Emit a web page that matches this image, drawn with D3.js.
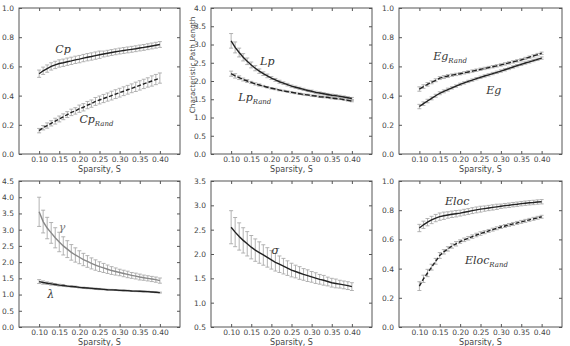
<!DOCTYPE html>
<html>
<head>
<meta charset="utf-8">
<script src="https://cdn.jsdelivr.net/npm/d3@7"></script>
<style>
  body { margin: 0; background: #fff; }
  svg { display: block; }
  .tick text { font-family: "DejaVu Sans", sans-serif; font-size: 7.5px; fill: #444; }
  .tick line { stroke: #555; }
  .lbl { font-family: "DejaVu Sans", sans-serif; font-size: 8px; fill: #444; }
  .ylbl { font-family: "DejaVu Sans", sans-serif; font-size: 7.3px; fill: #444; }
  .math { font-family: "DejaVu Serif", serif; font-style: italic; font-size: 11px; fill: #333; }
</style>
</head>
<body>
<svg id="chart" width="570" height="346"></svg>
<script>
var sparsity = [0.10,0.11,0.12,0.13,0.14,0.15,0.16,0.17,0.18,0.19,0.20,0.21,0.22,0.23,0.24,0.25,
                0.26,0.27,0.28,0.29,0.30,0.31,0.32,0.33,0.34,0.35,0.36,0.37,0.38,0.39,0.40];
var xTicks = [0.10,0.15,0.20,0.25,0.30,0.35,0.40];

var cp = [0.55,0.57,0.585,0.60,0.61,0.62,0.625,0.632,0.638,0.645,0.65,0.657,0.663,0.668,0.674,0.68,
          0.685,0.69,0.695,0.70,0.705,0.709,0.713,0.717,0.721,0.726,0.73,0.735,0.74,0.745,0.75];
var cpErr = [0.025,0.025,0.025,0.025,0.025,0.025,0.025,0.025,0.025,0.025,0.025,0.025,0.025,0.025,0.025,0.025,
             0.02,0.02,0.02,0.02,0.02,0.02,0.02,0.02,0.02,0.02,0.02,0.02,0.02,0.02,0.02];
var cpRand = [0.16,0.18,0.195,0.21,0.225,0.24,0.255,0.27,0.285,0.295,0.31,0.32,0.335,0.345,0.36,0.37,
              0.38,0.39,0.40,0.41,0.42,0.43,0.44,0.45,0.46,0.47,0.48,0.49,0.50,0.51,0.52];
var cpRandErr = [0.015,0.015,0.018,0.018,0.02,0.02,0.02,0.02,0.022,0.022,0.025,0.025,0.025,0.025,0.027,0.027,
                 0.028,0.028,0.03,0.03,0.03,0.03,0.03,0.03,0.032,0.032,0.032,0.032,0.035,0.035,0.035];

var lp = [3.10,2.92,2.78,2.65,2.54,2.44,2.35,2.27,2.20,2.14,2.08,2.03,1.98,1.94,1.90,1.86,
          1.83,1.80,1.77,1.74,1.72,1.69,1.67,1.65,1.63,1.61,1.60,1.58,1.56,1.54,1.52];
var lpErr = [0.2,0.15,0.12,0.1,0.09,0.08,0.07,0.06,0.05,0.05,0.04,0.04,0.04,0.035,0.035,0.03,
             0.03,0.03,0.03,0.03,0.03,0.03,0.03,0.03,0.03,0.03,0.03,0.03,0.03,0.03,0.03];
var lpRand = [2.20,2.14,2.09,2.04,2.00,1.96,1.92,1.89,1.86,1.83,1.80,1.78,1.75,1.73,1.71,1.69,
              1.67,1.65,1.63,1.62,1.60,1.59,1.57,1.56,1.55,1.53,1.52,1.51,1.49,1.47,1.45];
var lpRandErr = [0.07,0.06,0.05,0.04,0.04,0.03,0.03,0.03,0.02,0.02,0.02,0.02,0.02,0.02,0.02,0.02,
                 0.02,0.02,0.02,0.02,0.02,0.02,0.02,0.02,0.02,0.02,0.02,0.02,0.02,0.02,0.02];

var eg = [0.325,0.345,0.363,0.381,0.399,0.416,0.429,0.441,0.453,0.465,0.477,0.487,0.497,0.506,0.516,0.525,
          0.534,0.542,0.551,0.559,0.568,0.577,0.586,0.596,0.605,0.614,0.623,0.631,0.640,0.648,0.657];
var egRand = [0.445,0.462,0.477,0.491,0.505,0.52,0.527,0.534,0.540,0.545,0.55,0.556,0.562,0.568,0.574,0.58,
              0.586,0.592,0.598,0.604,0.61,0.617,0.624,0.631,0.638,0.645,0.654,0.663,0.672,0.681,0.69];
var egErr = [0.015,0.012,0.012,0.01,0.01,0.01,0.01,0.01,0.008,0.008,0.008,0.008,0.008,0.008,0.008,0.008,
             0.008,0.008,0.008,0.008,0.008,0.008,0.008,0.008,0.008,0.008,0.008,0.008,0.008,0.008,0.008];

var gamma = [3.55,3.25,3.05,2.90,2.75,2.62,2.50,2.40,2.30,2.22,2.15,2.08,2.02,1.96,1.91,1.86,
             1.82,1.78,1.74,1.71,1.68,1.65,1.62,1.59,1.57,1.54,1.52,1.50,1.48,1.46,1.43];
var gammaErr = [0.45,0.35,0.33,0.32,0.31,0.3,0.28,0.26,0.24,0.22,0.2,0.19,0.18,0.17,0.16,0.15,
                0.14,0.13,0.12,0.11,0.1,0.1,0.1,0.09,0.09,0.09,0.08,0.08,0.08,0.08,0.08];
var lambda = [1.40,1.37,1.35,1.33,1.31,1.29,1.28,1.26,1.25,1.24,1.22,1.21,1.20,1.19,1.18,1.17,
              1.16,1.15,1.145,1.14,1.13,1.125,1.12,1.11,1.105,1.10,1.095,1.09,1.08,1.07,1.06];
var lambdaErr = [0.06,0.05,0.04,0.04,0.03,0.03,0.03,0.02,0.02,0.02,0.02,0.02,0.02,0.02,0.02,0.02,
                 0.015,0.015,0.015,0.015,0.015,0.015,0.015,0.015,0.015,0.015,0.015,0.015,0.015,0.015,0.015];

var sigma = [2.55,2.45,2.36,2.28,2.21,2.14,2.08,2.03,1.98,1.93,1.88,1.83,1.79,1.75,1.71,1.67,
             1.64,1.61,1.58,1.555,1.53,1.505,1.48,1.46,1.435,1.41,1.395,1.38,1.365,1.35,1.33];
var sigmaErr = [0.34,0.30,0.28,0.26,0.25,0.24,0.23,0.22,0.21,0.2,0.19,0.18,0.17,0.16,0.15,0.14,
                0.13,0.13,0.12,0.12,0.11,0.11,0.1,0.1,0.09,0.09,0.09,0.08,0.08,0.08,0.08];

var eloc = [0.678,0.70,0.718,0.733,0.746,0.756,0.762,0.767,0.772,0.776,0.78,0.786,0.791,0.797,0.802,0.807,
            0.811,0.815,0.819,0.823,0.827,0.831,0.834,0.838,0.841,0.845,0.848,0.851,0.853,0.856,0.858];
var elocErr = [0.025,0.025,0.025,0.025,0.025,0.025,0.025,0.022,0.022,0.022,0.02,0.02,0.02,0.02,0.02,0.02,
               0.018,0.018,0.018,0.018,0.015,0.015,0.015,0.015,0.015,0.015,0.015,0.015,0.015,0.015,0.015];
var elocRand = [0.28,0.33,0.37,0.41,0.45,0.49,0.515,0.535,0.555,0.57,0.585,0.597,0.608,0.619,0.63,0.64,
                0.649,0.658,0.667,0.676,0.685,0.692,0.699,0.706,0.713,0.72,0.727,0.734,0.741,0.748,0.755];
var elocRandErr = [0.03,0.025,0.025,0.02,0.02,0.02,0.015,0.015,0.015,0.015,0.012,0.012,0.012,0.012,0.012,0.012,
                   0.01,0.01,0.01,0.01,0.01,0.01,0.01,0.01,0.01,0.01,0.01,0.01,0.01,0.01,0.01];

var svg = d3.select("#chart");

var panels = [
  {x: 19, y: 8, w: 161, h: 146, yDom: [0, 1], yTicks: d3.range(0, 1.01, 0.2),
   yLabel: "Clustering Coefficient", yLabelX: -3, yLabelY: 75,
   series: [
     {v: cp, e: cpErr, col: "#222", dash: null},
     {v: cpRand, e: cpRandErr, col: "#222", dash: "4,2"}],
   labels: [{t: "Cp", x: 0.14, y: 0.69}, {t: "Cp", sub: "Rand", x: 0.20, y: 0.21}]},
  {x: 211, y: 8, w: 161, h: 146, yDom: [0, 4], yTicks: d3.range(0, 4.01, 0.5),
   yLabel: "Characteristic Path Length", yLabelX: 194.5, yLabelY: 65,
   series: [
     {v: lp, e: lpErr, col: "#222", dash: null},
     {v: lpRand, e: lpRandErr, col: "#222", dash: "5,2"}],
   labels: [{t: "Lp", x: 0.172, y: 2.45}, {t: "Lp", sub: "Rand", x: 0.118, y: 1.45}]},
  {x: 399, y: 8, w: 163, h: 146, yDom: [0, 1], yTicks: d3.range(0, 1.01, 0.2),
   series: [
     {v: eg, e: egErr, col: "#222", dash: null},
     {v: egRand, e: egErr, col: "#222", dash: "5,2"}],
   labels: [{t: "Eg", sub: "Rand", x: 0.134, y: 0.645}, {t: "Eg", x: 0.264, y: 0.41}]},
  {x: 19, y: 181, w: 161, h: 146, yDom: [0, 4.5], yTicks: d3.range(0, 4.51, 0.5),
   series: [
     {v: gamma, e: gammaErr, col: "#888", dash: null},
     {v: lambda, e: lambdaErr, col: "#222", dash: null}],
   labels: [{t: "γ", x: 0.149, y: 2.95, col: "#777"}, {t: "λ", x: 0.12, y: 0.9}]},
  {x: 211, y: 181, w: 161, h: 146, yDom: [0.5, 3.5], yTicks: d3.range(0.5, 3.51, 0.5),
   series: [
     {v: sigma, e: sigmaErr, col: "#222", dash: null}],
   labels: [{t: "σ", x: 0.2, y: 2.0}]},
  {x: 399, y: 181, w: 163, h: 146, yDom: [0, 1], yTicks: d3.range(0, 1.01, 0.2),
   series: [
     {v: eloc, e: elocErr, col: "#222", dash: null},
     {v: elocRand, e: elocRandErr, col: "#222", dash: "4,2"}],
   labels: [{t: "Eloc", x: 0.163, y: 0.835}, {t: "Eloc", sub: "Rand", x: 0.212, y: 0.43}]}
];

panels.forEach(function(p) {
  var g = svg.append("g").attr("transform", `translate(${p.x},${p.y})`);
  var x = d3.scaleLinear().domain([0.05, 0.45]).range([0, p.w]);
  var y = d3.scaleLinear().domain(p.yDom).range([p.h, 0]);

  // matplotlib style: ticks point inward on all four sides
  g.append("g").attr("transform", `translate(0,${p.h})`)
    .call(d3.axisBottom(x).tickValues(xTicks).tickFormat(d3.format(".2f")).tickSizeInner(-3).tickSizeOuter(0).tickPadding(3));
  g.append("g")
    .call(d3.axisTop(x).tickValues(xTicks).tickFormat("").tickSizeInner(-3).tickSizeOuter(0));
  g.append("g")
    .call(d3.axisLeft(y).tickValues(p.yTicks).tickFormat(d3.format(".1f")).tickSizeInner(-3).tickSizeOuter(0).tickPadding(5));
  g.append("g").attr("transform", `translate(${p.w},0)`)
    .call(d3.axisRight(y).tickValues(p.yTicks).tickFormat("").tickSizeInner(-3).tickSizeOuter(0));
  g.selectAll(".domain").remove();
  g.append("rect").attr("width", p.w).attr("height", p.h)
    .attr("fill", "none").attr("stroke", "#555").attr("stroke-width", 1);

  p.series.forEach(function(s) {
    var pts = sparsity.map(function(d, i) { return {x: d, v: s.v[i], e: s.e[i]}; });
    var eb = g.append("g").attr("stroke", "#aaa").attr("stroke-width", 0.9);
    eb.selectAll("line.v").data(pts).enter().append("line")
      .attr("x1", d => x(d.x)).attr("x2", d => x(d.x))
      .attr("y1", d => y(d.v - d.e)).attr("y2", d => y(d.v + d.e));
    eb.selectAll("line.t").data(pts).enter().append("line")
      .attr("x1", d => x(d.x) - 2).attr("x2", d => x(d.x) + 2)
      .attr("y1", d => y(d.v + d.e)).attr("y2", d => y(d.v + d.e));
    eb.selectAll("line.b").data(pts).enter().append("line")
      .attr("x1", d => x(d.x) - 2).attr("x2", d => x(d.x) + 2)
      .attr("y1", d => y(d.v - d.e)).attr("y2", d => y(d.v - d.e));
    g.append("path").datum(pts)
      .attr("fill", "none").attr("stroke", s.col).attr("stroke-width", 1.4)
      .attr("stroke-dasharray", s.dash)
      .attr("d", d3.line().x(d => x(d.x)).y(d => y(d.v)));
  });

  p.labels.forEach(function(l) {
    var t = g.append("text").attr("class", "math")
      .attr("x", x(l.x)).attr("y", y(l.y))
      .style("fill", l.col || "#333").text(l.t);
    if (l.sub) {
      t.append("tspan").attr("dy", 3).style("font-size", "7px").text(l.sub);
    }
  });

  g.append("text").attr("class", "lbl").attr("text-anchor", "middle")
    .attr("x", p.w / 2).attr("y", p.h + 17.5).text("Sparsity, S");

  if (p.yLabel) {
    svg.append("text").attr("class", "ylbl").attr("text-anchor", "middle")
      .attr("transform", `translate(${p.yLabelX},${p.yLabelY}) rotate(-90)`)
      .text(p.yLabel);
  }
});
</script>
</body>
</html>
